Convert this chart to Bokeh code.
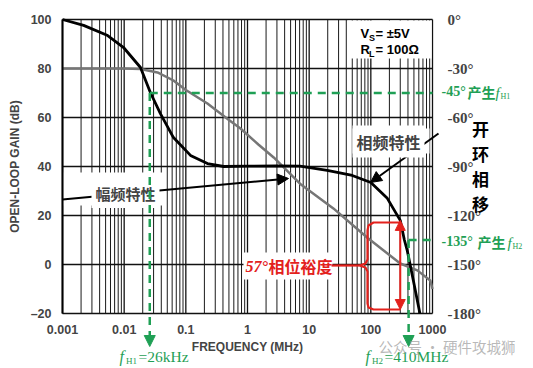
from bokeh.plotting import figure
from bokeh.models import (LinearAxis, LogAxis, LogScale, Range1d, FixedTicker, Label, Arrow, NormalHead)
from bokeh.embed import file_html
from bokeh.resources import INLINE

# ---------------- data ----------------
gain_f = [0.001, 0.005, 0.01, 0.0184, 0.0347, 0.063, 0.1, 0.224, 0.5, 0.77, 1.5,
          2.66, 7.1, 24.7, 87, 300, 567, 920, 1000]
gain_db = [80, 80, 80, 79.8, 78.4, 75.1, 71.2, 65.7, 59.0, 55.5, 49.0,
           43.7, 33.0, 22.9, 11.0, 0.4, -2.4, -6.5, -10.0]

phase_f = [0.001, 0.0022, 0.0054, 0.0097, 0.0184, 0.0266, 0.0387, 0.063, 0.119,
           0.224, 0.41, 1, 3, 7.1, 19.6, 50, 100, 185, 300, 350, 390, 490, 625]
phase_deg = [0, -3.6, -9.8, -17, -29.4, -44.7, -57.6, -72.3, -83.2,
             -88.2, -90, -89.8, -89.6, -89.8, -92.4, -95.5, -99.8, -109.5, -123,
             -135, -141.5, -160, -180]

x_ticks = [0.001, 0.01, 0.1, 1, 10, 100, 1000]
x_tick_labels = ["0.001", "0.01", "0.1", "1", "10", "100", "1000"]
gain_ticks = [-20, 0, 20, 40, 60, 80, 100]
gain_tick_labels = ["\u201320", "0", "20", "40", "60", "80", "100"]
phase_ticks = [0, -30, -60, -90, -120, -150, -180]
phase_tick_labels = ["0\u00b0", "-30\u00b0", "-60\u00b0", "-90\u00b0", "-120\u00b0", "-150\u00b0", "-180\u00b0"]

fH1 = 0.026      # MHz
fH2 = 410        # MHz
phase_fH1 = -45
phase_fH2 = -135
pm_freq = 300    # MHz, unity-gain frequency
pm_phase = -123  # phase at unity gain -> 57 deg margin

GREEN = "#1fa055"
RED = "#e3211c"
SANS = "Liberation Sans"
SERIF = "Liberation Serif"
CJK = "Noto Sans CJK SC"

# ---------------- layout geometry ----------------
W, H, OFF = 533, 368, 0
PL, PR, PT, PB = 62, 432, 19, 313          # page pixels of the plotting area
X_MIN, X_MAX, Y_MIN, Y_MAX = 0.001, 1000, -20, 100
dec_px = (PR - PL) / 6.0
db_px = (PB - PT) / float(Y_MAX - Y_MIN)
x_lo = 10 ** (-3 - (PL - OFF) / dec_px)
x_hi = 10 ** (3 + (OFF + W - PR) / dec_px)
y_hi = Y_MAX + (PT - OFF) / db_px
y_lo = Y_MIN - (OFF + H - PB) / db_px


def to_phase(db):
    return (db - 100) * 1.5


def to_db(ph):
    return 100 + ph * 2 / 3


def fx(px):
    return 10 ** ((px - PL) / dec_px - 3)


def fy(py):
    return Y_MAX - (py - PT) / db_px


p = figure(width=W, height=H, x_axis_type=None, y_axis_type=None,
           x_range=Range1d(x_lo, x_hi), y_range=Range1d(y_lo, y_hi),
           output_backend="svg", toolbar_location=None,
           min_border=0, min_border_left=0, min_border_right=0,
           min_border_top=0, min_border_bottom=0)
p.x_scale = LogScale()
p.extra_y_ranges = {"phase": Range1d(to_phase(y_lo), to_phase(y_hi))}
p.background_fill_color = "white"
p.border_fill_color = "white"
p.outline_line_color = None
p.xgrid.visible = False
p.ygrid.visible = False

minor = [k * 10.0 ** d for d in range(-3, 3) for k in range(2, 10)]

# grid
p.segment(x0=minor, y0=[Y_MIN] * len(minor), x1=minor, y1=[Y_MAX] * len(minor),
          line_color="#1a1a1a", line_width=1)
p.segment(x0=x_ticks, y0=[Y_MIN] * len(x_ticks), x1=x_ticks, y1=[Y_MAX] * len(x_ticks),
          line_color="#111111", line_width=1.3)
p.segment(x0=[X_MIN] * len(gain_ticks), y0=gain_ticks, x1=[X_MAX] * len(gain_ticks), y1=gain_ticks,
          line_color="#111111", line_width=1.5)

# axes at fixed locations
xax = LogAxis(ticker=FixedTicker(ticks=x_ticks, minor_ticks=[]), fixed_location=Y_MIN,
              bounds=(X_MIN, X_MAX), axis_label="FREQUENCY (MHz)")
xax.major_label_overrides = dict(zip(x_ticks, x_tick_labels))
xax.axis_line_color = None
yax = LinearAxis(ticker=FixedTicker(ticks=gain_ticks, minor_ticks=[]), fixed_location=X_MIN,
                 bounds=(Y_MIN, Y_MAX), axis_label="OPEN-LOOP GAIN (dB)")
yax.major_label_overrides = dict(zip(gain_ticks, gain_tick_labels))
yax.axis_line_width = 2
for ax in (xax, yax):
    ax.axis_label_text_font = SANS
    ax.axis_label_text_font_style = "bold"
    ax.axis_label_text_font_size = "12px"
    ax.major_label_text_font = SANS
    ax.major_label_text_font_style = "bold"
    ax.major_label_text_font_size = "12.5px"
    ax.major_tick_line_color = None
    ax.minor_tick_line_color = None
    ax.axis_label_standoff = 6
    ax.major_label_standoff = 5
xax.axis_label_standoff = 3
p.add_layout(xax, "below")
p.add_layout(yax, "left")

rax = LinearAxis(y_range_name="phase", ticker=FixedTicker(ticks=phase_ticks, minor_ticks=[]),
                 fixed_location=X_MAX, bounds=(-180, 0))
rax.major_label_overrides = dict(zip(phase_ticks, phase_tick_labels))
rax.major_label_text_font = SERIF
rax.major_label_text_font_style = "bold"
rax.major_label_text_font_size = "15px"
rax.major_label_text_baseline = "bottom"
rax.axis_line_color = None
rax.major_tick_line_color = None
rax.minor_tick_line_color = None
rax.major_label_standoff = 9
p.add_layout(rax, "right")

# white boxes that hide the grid behind labels
boxes = [(63, 165, 172, 205), (352, 429, 128, 153), (243, 332, 252, 279), (347, 431, 20, 58)]
p.quad(left=[fx(b[0]) for b in boxes], right=[fx(b[1]) for b in boxes],
       top=[fy(b[2]) for b in boxes], bottom=[fy(b[3]) for b in boxes],
       fill_color="white", line_color=None)

# curves
p.line(gain_f, gain_db, line_color="#767676", line_width=2.5)
p.line(phase_f, phase_deg, y_range_name="phase", line_color="black", line_width=2.8)


def lab(px, py, text, size, color="black", font=SANS, style="bold", align="left", alpha=1.0):
    p.add_layout(Label(x=fx(px), y=fy(py), text=text, text_font=font, text_font_style=style,
                       text_font_size=f"{size}px", text_color=color, text_align=align,
                       text_baseline="middle", text_alpha=alpha))


# black arrows + labels
p.add_layout(Arrow(x_start=fx(62), y_start=fy(199), x_end=fx(288), y_end=fy(178),
                   line_width=2, line_color="black",
                   end=NormalHead(size=11, fill_color="black", line_color="black")))
p.add_layout(Arrow(x_start=fx(438), y_start=fy(133), x_end=fx(370), y_end=fy(182),
                   line_width=2, line_color="black",
                   end=NormalHead(size=11, fill_color="black", line_color="black")))
p.add_layout(Label(x=fx(125), y=fy(193), text="幅频特性", text_font=CJK, text_font_style="bold",
                   text_font_size="15px", text_align="center", text_baseline="middle",
                   background_fill_color="white", padding=4))
p.add_layout(Label(x=fx(388), y=fy(141), text="相频特性", text_font=CJK, text_font_style="bold",
                   text_font_size="16px", text_align="center", text_baseline="middle",
                   background_fill_color="white", padding=4))

for i, ch in enumerate(["开", "环", "相", "移"]):
    lab(480, 128 + 25 * i, ch, 17, font=CJK, align="center")

# legend text
lab(360, 33, "V", 13)
lab(368.5, 37, "S", 9)
lab(375, 33, "= \u00b15V", 13)
lab(360, 49, "R", 13)
lab(368.5, 53, "L", 9)
lab(375, 49, "= 100\u03a9", 13)

# green markers for fH1 / fH2
p.segment(x0=[fH1, fH2], y0=[phase_fH1, phase_fH2], x1=[X_MAX, X_MAX], y1=[phase_fH1, phase_fH2],
          y_range_name="phase", line_color=GREEN, line_width=2.5, line_dash="8 6")
for fh, ph in ((fH1, phase_fH1), (fH2, phase_fH2)):
    p.add_layout(Arrow(x_start=fh, y_start=to_db(ph), x_end=fh, y_end=fy(346),
                       line_width=2.5, line_color=GREEN, line_dash="8 6",
                       end=NormalHead(size=11, fill_color=GREEN, line_color=GREEN)))

lab(441, 91, "-45\u00b0", 14, GREEN, SERIF)
lab(467, 91, "产生", 14, GREEN, CJK)
lab(495, 92, "f", 15, GREEN, SERIF, "italic")
lab(500, 96, "H1", 8, GREEN, SERIF, "normal")
lab(441, 241, "-135\u00b0", 14, GREEN, SERIF)
lab(477, 241, "产生", 14, GREEN, CJK)
lab(507, 242, "f", 15, GREEN, SERIF, "italic")
lab(512, 246, "H2", 8, GREEN, SERIF, "normal")

lab(119, 356, "f", 16, GREEN, SERIF, "italic")
lab(125.5, 360, "H1", 9, GREEN, SERIF, "normal")
lab(138, 356, "=26kHz", 15.5, GREEN, SERIF, "normal")
lab(365, 356, "f", 16, GREEN, SERIF, "italic")
lab(371.5, 360, "H2", 9, GREEN, SERIF, "normal")
lab(384, 356, "=410MHz", 15.5, GREEN, SERIF, "normal")

# red phase-margin marking
top_db = to_db(pm_phase)
brace_px = [(400, 222), (373, 222), (368, 225), (367, 230), (367, 259), (365, 263), (359, 265),
            (365, 267), (367, 271), (367, 303), (368, 307), (373, 309), (400, 309)]
p.line([fx(a) for a, b in brace_px], [fy(b) for a, b in brace_px], line_color=RED, line_width=2.2)
p.line([fx(331), fx(359)], [fy(265), fy(265)], line_color=RED, line_width=2.2)
p.add_layout(Arrow(x_start=pm_freq, y_start=fy(309), x_end=pm_freq, y_end=top_db,
                   line_width=2, line_color=RED,
                   start=NormalHead(size=10, fill_color=RED, line_color=RED),
                   end=NormalHead(size=10, fill_color=RED, line_color=RED)))
lab(245, 266, "57\u00b0", 16, RED, SERIF, "bold italic")
lab(268, 265, "相位裕度", 16, RED, CJK)

# watermark
lab(378, 346, "公众号 · 硬件攻城狮", 14.5, "#9a9a9a", CJK, "normal", alpha=0.7)

open("out.html", "w").write(file_html(p, INLINE))
